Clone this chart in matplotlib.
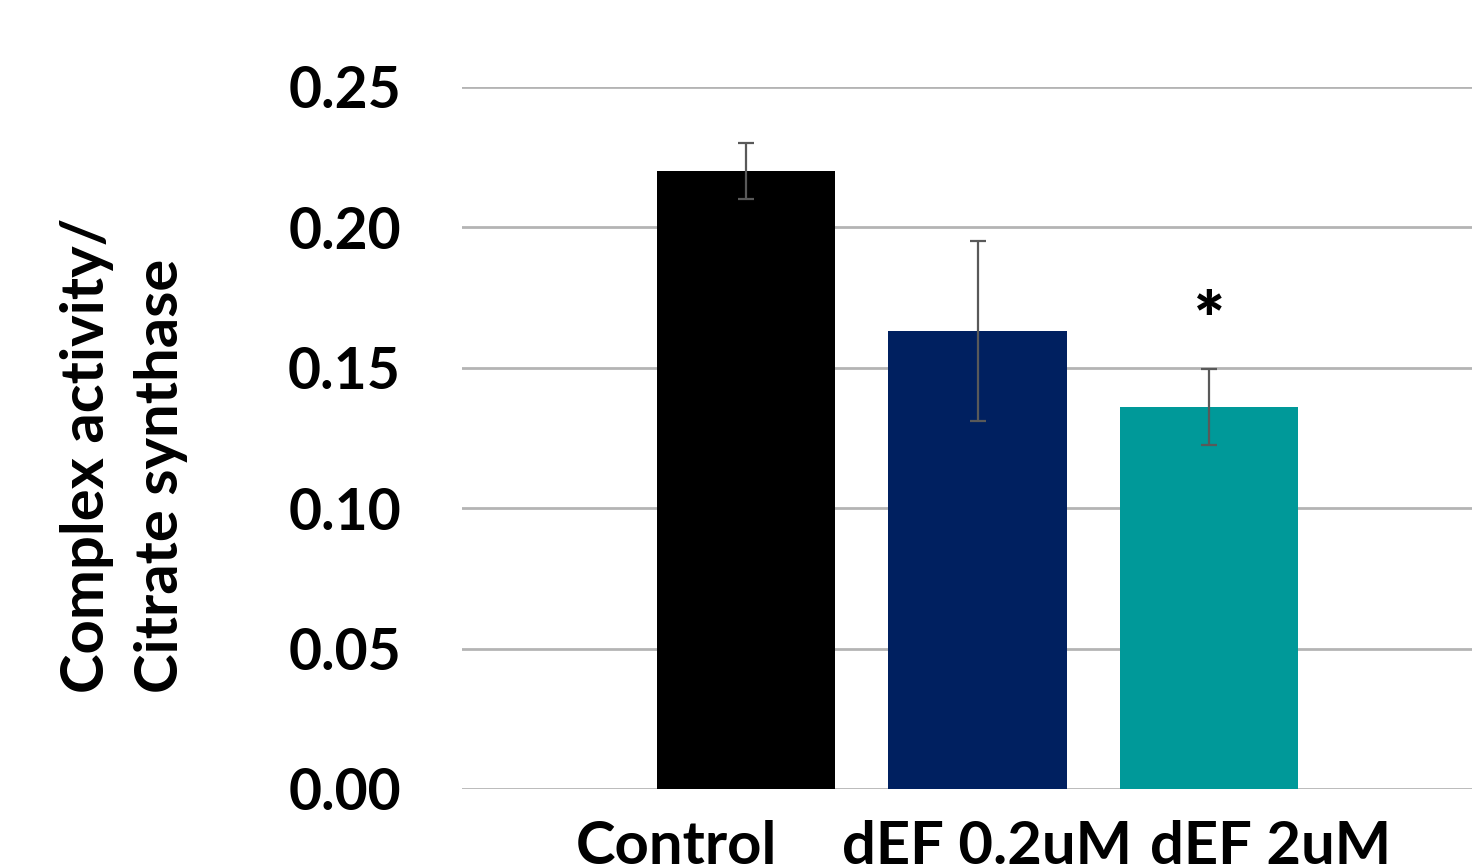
import matplotlib.pyplot as plt
import matplotlib.transforms as mtransforms

# data
groups = ['Control', 'dEF 0.2uM', 'dEF 2uM']
means = [0.220, 0.163, 0.136]
errors = [0.010, 0.032, 0.0135]
colors = ['#000000', '#002060', '#009999']
y_ticks = [0.00, 0.05, 0.10, 0.15, 0.20, 0.25]

plt.rcParams['font.family'] = ['Lato', 'DejaVu Sans']
plt.rcParams['font.weight'] = 'bold'

fig = plt.figure(figsize=(14.72, 8.65), dpi=100)
W, H = 1472, 865
ax = fig.add_axes([462 / W, (H - 789) / H, 1 - 462 / W, (789 - 87) / H])

x = list(range(len(groups)))
ax.bar(x, means, width=0.77, color=colors, zorder=3)
ax.errorbar(x, means, yerr=errors, fmt='none', ecolor='#595959',
            elinewidth=1.6, capsize=6, capthick=1.6, zorder=4)

# significance mark over the last group
ax.text(x[2], means[2] + errors[2] + 0.0165, '*', ha='center', va='center',
        fontsize=52, fontweight='heavy')

ax.set_xlim(-1.227, 3.136)
ax.set_ylim(0, 0.25)
ax.set_yticks(y_ticks)
ax.set_yticklabels([f'{v:.2f}' for v in y_ticks])
ax.yaxis.grid(True, color='#b4b4b4', linewidth=2, zorder=0)
ax.set_axisbelow(True)
for s in ax.spines.values():
    s.set_visible(False)
ax.tick_params(axis='y', length=0, pad=44, labelsize=41)
ax.tick_params(axis='x', length=0, pad=22, labelsize=43)

ax.set_xticks(x)
ax.set_xticklabels(groups)
shifts = [-70, 9, 62]
for lab, dx in zip(ax.get_xticklabels(), shifts):
    lab.set_transform(lab.get_transform() +
                      mtransforms.ScaledTranslation(dx / 100, 0, fig.dpi_scale_trans))

fig.text(124 / W, 1 - 455 / H, 'Complex activity/\nCitrate synthase',
         rotation=90, ha='center', va='center', multialignment='left',
         fontsize=43, fontweight='bold', linespacing=1.45)

fig.savefig('out.png', dpi=100)
